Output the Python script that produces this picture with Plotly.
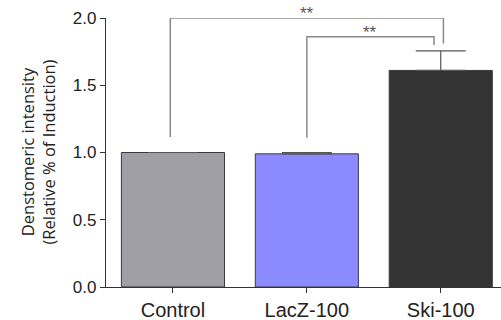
import plotly.graph_objects as go

categories = ["Control", "LacZ-100", "Ski-100"]
values = [1.0, 0.99, 1.61]
errors = [None, 0.01, 0.145]
bar_colors = ["#a09fa5", "#8b8bff", "#333333"]
y_ticks = [0.0, 0.5, 1.0, 1.5, 2.0]
y_tick_labels = ["0.0", "0.5", "1.0", "1.5", "2.0"]

# significance brackets: (from index, to index, left foot, top, right foot, label)
brackets = [
    (0, 2, 1.115, 2.0, 1.81, "**"),
    (1, 2, 1.11, 1.86, 1.80, "**"),
]

fig = go.Figure()
fig.add_trace(go.Bar(
    x=list(range(len(categories))), y=values,
    width=0.77,
    marker=dict(color=bar_colors, line=dict(color="#3a3a3a", width=1)),
    error_y=dict(type="data", array=errors, symmetric=False, arrayminus=[0, 0, 0],
                 color="#555555", thickness=1.2, width=25),
    showlegend=False,
))

shapes = []
annotations = []
offsets = [(-0.02, 0.02), (0.0, -0.05)]
for (a, b, lf, top, rf, lab), (da, db) in zip(brackets, offsets):
    xa, xb = a + da, b + db
    shapes.append(dict(type="path", xref="x", yref="y",
                       path=f"M {xa} {lf} L {xa} {top} L {xb} {top} L {xb} {rf}",
                       line=dict(color="#8a8a8a", width=1.5)))
    annotations.append(dict(x=(xa + xb) / 2, y=top, xref="x", yref="y",
                            text=lab, showarrow=False, yanchor="bottom",
                            yshift=-7,
                            font=dict(size=17, color="#555555", family="Liberation Sans")))

annotations.append(dict(x=0, y=0.5, xref="paper", yref="paper", xshift=37 - 106,
                        text="Denstomeric intensity<br>(Relative % of Induction)",
                        textangle=-90, showarrow=False, xanchor="center", yanchor="middle",
                        font=dict(size=16.5, color="#222222", family="Open Sans")))

fig.update_layout(
    width=501, height=320,
    margin=dict(l=106, r=0, t=18, b=33, autoexpand=False),
    paper_bgcolor="white", plot_bgcolor="white",
    shapes=shapes, annotations=annotations,
    xaxis=dict(range=[-0.5, 2.45], tickvals=list(range(len(categories))),
               ticktext=categories, showgrid=False, zeroline=False,
               showline=True, linecolor="#333333", linewidth=1.2,
               ticks="outside", ticklen=5, tickcolor="#333333", automargin=False,
               tickfont=dict(size=20, color="#222222", family="Liberation Sans")),
    yaxis=dict(range=[0, 2.0], tickvals=y_ticks, ticktext=y_tick_labels,
               showgrid=False, zeroline=False, showline=True, automargin=False,
               linecolor="#333333", linewidth=1.2,
               ticks="outside", ticklen=5, tickcolor="#333333",
               tickfont=dict(size=17, color="#222222", family="Liberation Sans")),
)

fig.write_html("out.html", config={"displayModeBar": False},
               post_script="document.body.style.margin='0';document.body.style.overflow='hidden';")
